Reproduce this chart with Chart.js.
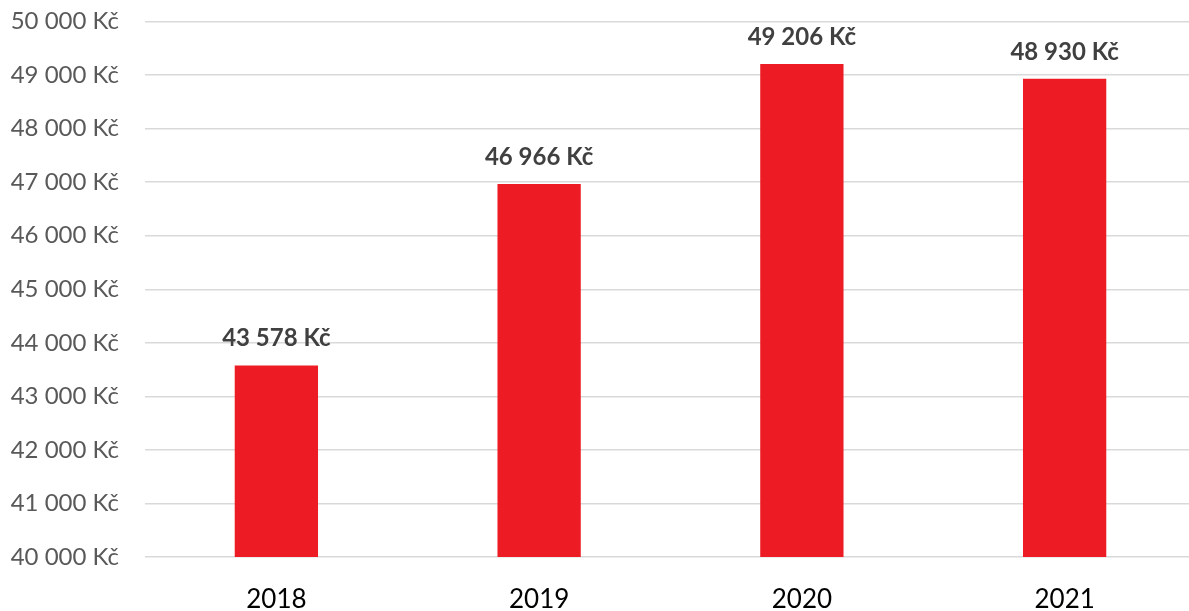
<!DOCTYPE html>
<html>
<head>
<meta charset="utf-8">
<script src="https://cdn.jsdelivr.net/npm/chart.js@4/dist/chart.umd.min.js"></script>
<style>
  html, body { margin: 0; padding: 0; background: #fff; overflow: hidden; }
  #wrap { width: 1196px; height: 611px; }
</style>
</head>
<body>
<div id="wrap"><canvas id="chart-bars"></canvas></div>
<script>
// data
const roky = ["2018", "2019", "2020", "2021"];
const mzdy = [43578, 46966, 49206, 48930];
const osaMin = 40000;
const osaMax = 50000;
const osaKrok = 1000;

// formát "43 578 Kč"
function kc(v) {
  return String(Math.round(v)).replace(/\B(?=(\d{3})+(?!\d))/g, " ") + " Kč";
}

// popisky nad sloupci
const popisky = {
  id: "popisky",
  afterDatasetsDraw(chart) {
    const c = chart.ctx;
    const meta = chart.getDatasetMeta(0);
    c.save();
    c.font = "bold 24px Lato";
    c.fillStyle = "#404040";
    c.textAlign = "center";
    c.textBaseline = "alphabetic";
    meta.data.forEach((bar, i) => {
      c.fillText(kc(mzdy[i]), bar.x, bar.y - 19);
    });
    c.restore();
  }
};

const ctx = document.getElementById("chart-bars").getContext("2d");
let myChart = new Chart(ctx, {
  type: "bar",
  data: {
    labels: roky,
    datasets: [
      {
        label: "Mzda",
        data: mzdy,
        backgroundColor: "#ED1C24",
        borderWidth: 0,
        categoryPercentage: 1,
        barPercentage: 0.317,
      }
    ],
  },
  options: {
    responsive: true,
    maintainAspectRatio: false,
    animation: false,
    layout: { padding: { top: 21.5, right: 0, left: 0, bottom: 0 } },
    plugins: {
      legend: { display: false },
      tooltip: { enabled: false },
    },
    scales: {
      x: {
        grid: { display: false, drawTicks: false },
        border: { display: false },
        ticks: {
          color: "#000000",
          font: { family: "Lato", size: 26 },
          padding: 27,
        },
        afterFit(scale) { scale.height = 54; },
      },
      y: {
        min: osaMin,
        max: osaMax,
        grid: { color: "#d9d9d9", lineWidth: 1.5, drawTicks: false },
        border: { display: false },
        ticks: {
          stepSize: osaKrok,
          color: "#595959",
          font: { family: "Lato", size: 24 },
          padding: 26,
          callback: (v) => kc(v),
        },
        afterFit(scale) {
          scale.width = 145;
          scale.paddingTop = 0;
          scale.paddingBottom = 0;
        },
      },
    },
  },
  plugins: [popisky],
});
</script>
</body>
</html>
